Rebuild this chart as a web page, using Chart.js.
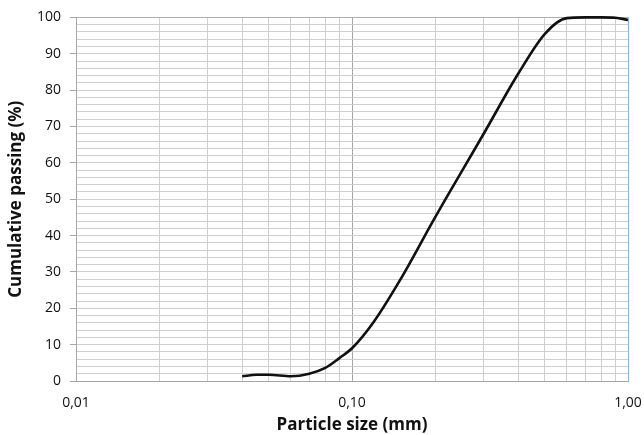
<!DOCTYPE html>
<html>
<head>
<meta charset="utf-8">
<script src="https://cdn.jsdelivr.net/npm/chart.js@4/dist/chart.umd.min.js"></script>
<style>
html,body{margin:0;padding:0;background:#fff;}
#wrap{width:644px;height:435px;position:relative;}
</style>
</head>
<body>
<div id="wrap"><canvas id="c" width="644" height="435"></canvas></div>
<script>
// Particle size (mm) and cumulative passing (%)
const sizes   = [0.04, 0.045, 0.05, 0.06, 0.07, 0.08, 0.09, 0.10, 0.12, 0.15, 0.20, 0.30, 0.40, 0.50, 0.60, 0.70, 0.80, 0.90, 1.00];
const passing = [1.3,  1.7,   1.7,  1.3,  2.0,  3.6,  6.3,  9.0,  16.3, 28,   45,   68,   84.5, 95.5, 99.8, 100,  100,  99.9, 99.3];
const xGridValues = [0.01,0.02,0.03,0.04,0.05,0.06,0.07,0.08,0.09,0.1,0.2,0.3,0.4,0.5,0.6,0.7,0.8,0.9,1];
const xLabelValues = [0.01, 0.1, 1];
const xLabels = ['0,01', '0,10', '1,00'];
const yMin = 0, yMax = 100, yMinorStep = 2, yMajorStep = 10;
const xTitle = 'Particle size (mm)';
const yTitle = 'Cumulative passing (%)';

const FONT = '"Open Sans", Lato, sans-serif';
const BLUE = '#8db4e2';

function isDecade(v){ return xLabelValues.some(d => Math.abs(d - v) < 1e-9); }

new Chart(document.getElementById('c'), {
  type: 'line',
  data: {
    datasets: [{
      data: sizes.map((s, i) => ({x: s, y: passing[i]})),
      borderColor: '#111',
      borderWidth: 2.6,
      pointRadius: 0,
      cubicInterpolationMode: 'monotone',
      fill: false,
      clip: 6
    }]
  },
  options: {
    responsive: false,
    animation: false,
    devicePixelRatio: 1,
    layout: { padding: { top: 16, right: 0, left: 0, bottom: 0 } },
    plugins: { legend: { display: false }, tooltip: { enabled: false } },
    scales: {
      x: {
        type: 'logarithmic',
        min: 0.01, max: 1,
        afterBuildTicks: s => { s.ticks = xGridValues.map(v => ({value: v})); },
        afterFit: s => { s.height = 54; s.paddingRight = 16; s.paddingLeft = 0; },
        ticks: {
          autoSkip: false, maxRotation: 0, padding: 14,
          color: '#111',
          font: { family: FONT, size: 14 },
          callback: v => { const i = xLabelValues.findIndex(d => Math.abs(d - v) < 1e-9); return i >= 0 ? xLabels[i] : ''; }
        },
        grid: {
          drawTicks: false,
          lineWidth: 1,
          color: ctx => {
            const v = ctx.tick ? ctx.tick.value : 0;
            if (Math.abs(v - 1) < 1e-9) return BLUE;
            return isDecade(v) ? '#a6a6a6' : '#cfcfcf';
          }
        },
        border: { display: true, color: '#a6a6a6', width: 1 },
        title: {
          display: true, text: xTitle, color: '#111',
          font: { family: FONT, size: 17, weight: 'bold' },
          padding: { top: 0, bottom: 0 }
        }
      },
      y: {
        type: 'linear',
        min: yMin, max: yMax,
        afterFit: s => { s.width = 76; },
        ticks: {
          stepSize: yMinorStep, autoSkip: false, padding: 9,
          color: '#111',
          font: { family: FONT, size: 14 },
          callback: v => (v % yMajorStep === 0 ? String(v) : '')
        },
        grid: {
          tickLength: 6,
          lineWidth: 1,
          tickColor: ctx => (ctx.tick && ctx.tick.value % yMajorStep === 0 ? '#a6a6a6' : 'rgba(0,0,0,0)'),
          color: ctx => (ctx.tick && ctx.tick.value === yMax ? BLUE : '#cfcfcf')
        },
        border: { display: true, color: '#a6a6a6', width: 1 },
        title: {
          display: true, text: yTitle, color: '#111',
          font: { family: FONT, size: 17, weight: 'bold' },
          padding: { top: 6, bottom: 4 }
        }
      }
    }
  }
});
</script>
</body>
</html>
